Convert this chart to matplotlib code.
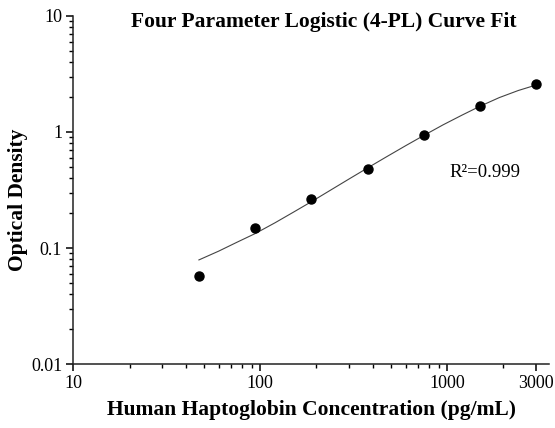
import matplotlib.pyplot as plt
from matplotlib.ticker import FixedLocator, LogLocator, NullFormatter

# standards (concentration, optical density)
conc = [46.875, 93.75, 187.5, 375, 750, 1500, 3000]
od = [0.057, 0.148, 0.265, 0.477, 0.935, 1.68, 2.57]

# fitted 4-PL curve
fit_conc = [47, 60, 75, 94, 120, 150, 188, 240, 300, 375, 470, 600, 750,
            950, 1200, 1500, 1900, 2400, 3000]
fit_od = [0.0791, 0.0942, 0.1122, 0.1334, 0.1652, 0.2032, 0.2512, 0.3184,
          0.3954, 0.4898, 0.6067, 0.7621, 0.9333, 1.151, 1.396, 1.667,
          1.977, 2.275, 2.541]

x_ticks = [10, 100, 1000, 3000]
x_labels = ["10", "100", "1000", "3000"]
y_ticks = [0.01, 0.1, 1, 10]
y_labels = ["0.01", "0.1", "1", "10"]

plt.rcParams["font.family"] = ["Liberation Serif", "DejaVu Serif"]

fig = plt.figure(figsize=(5.55, 4.28), dpi=100)
ax = fig.add_axes([0.132, 0.149, 0.857, 0.814])

ax.plot(fit_conc, fit_od, "-", color="#444444", lw=0.8)
ax.plot(conc, od, "o", color="black", ms=6.5)

ax.set_xscale("log")
ax.set_yscale("log")
ax.set_xlim(10, 3500)
ax.set_ylim(0.01, 10)

ax.xaxis.set_major_locator(FixedLocator(x_ticks))
ax.set_xticklabels(x_labels)
ax.xaxis.set_minor_locator(LogLocator(base=10, subs=range(2, 10)))
ax.xaxis.set_minor_formatter(NullFormatter())
ax.yaxis.set_major_locator(FixedLocator(y_ticks))
ax.set_yticklabels(y_labels)
ax.yaxis.set_minor_locator(LogLocator(base=10, subs=range(2, 10)))
ax.yaxis.set_minor_formatter(NullFormatter())

for side in ["top", "right"]:
    ax.spines[side].set_visible(False)
for side in ["left", "bottom"]:
    ax.spines[side].set_linewidth(1.1)
    ax.spines[side].set_color("#222222")

ax.tick_params(which="major", length=5, width=1.1, labelsize=13, pad=3)
ax.tick_params(which="minor", length=3, width=1.0)

ax.text(1030, 0.452, "R²=0.999", fontsize=13.5, va="center", ha="left")

fig.text(0.584, 0.949, "Four Parameter Logistic (4-PL) Curve Fit",
         ha="center", va="center", fontsize=15.5, fontweight="bold")
fig.text(0.562, 0.042, "Human Haptoglobin Concentration (pg/mL)",
         ha="center", va="center", fontsize=15.5, fontweight="bold")
fig.text(0.033, 0.533, "Optical Density", rotation=90,
         ha="center", va="center", fontsize=15.5, fontweight="bold")

fig.savefig("out.png", dpi=100)
